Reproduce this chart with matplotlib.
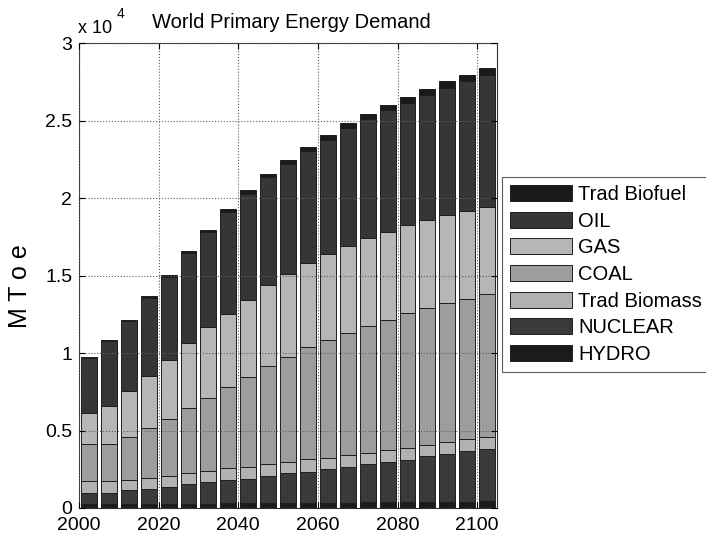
import matplotlib
matplotlib.use("Agg")
from matplotlib import pyplot as plt
from matplotlib.ticker import FuncFormatter
import numpy as np

plt.rcParams['font.family'] = ['Liberation Sans', 'DejaVu Sans']

years = [2000, 2005, 2010, 2015, 2020, 2025, 2030, 2035, 2040, 2045, 2050,
         2055, 2060, 2065, 2070, 2075, 2080, 2085, 2090, 2095, 2100]

# MToe by source, bottom of stack first
hydro = [230, 235, 240, 250, 260, 270, 280, 290, 300, 310, 320,
         330, 340, 350, 360, 370, 380, 390, 400, 410, 420]
nuclear = [740, 735, 900, 975, 1095, 1280, 1375, 1495, 1570, 1735, 1910,
           1990, 2155, 2315, 2480, 2620, 2715, 2965, 3085, 3265, 3405]
trad_biomass = [750, 750, 645, 730, 690, 710, 710, 795, 775, 795, 750,
                840, 755, 730, 730, 750, 795, 710, 755, 750, 775]
coal = [2430, 2430, 2795, 3205, 3695, 4170, 4730, 5205, 5825, 6300, 6740,
        7200, 7590, 7910, 8170, 8385, 8665, 8815, 8965, 9075, 9225]
gas = [1980, 2450, 2990, 3330, 3785, 4215, 4560, 4750, 4970, 5245, 5380,
       5460, 5545, 5590, 5655, 5700, 5700, 5695, 5700, 5655, 5610]
oil = [3540, 4155, 4480, 5060, 5405, 5815, 6140, 6590, 6850, 6960, 7130,
       7210, 7385, 7625, 7690, 7865, 7905, 8060, 8230, 8385, 8515]
trad_biofuel = [50, 60, 80, 100, 120, 140, 160, 180, 200, 220, 250,
                270, 290, 310, 330, 350, 370, 390, 410, 430, 450]

names = ['HYDRO', 'NUCLEAR', 'Trad Biomass', 'COAL', 'GAS', 'OIL', 'Trad Biofuel']
series = [hydro, nuclear, trad_biomass, coal, gas, oil, trad_biofuel]
colors = ['#1b1b1b', '#3a3a3a', '#b2b2b2', '#9d9d9d', '#b6b6b6', '#363636', '#1a1a1a']

fig = plt.figure(figsize=(7.06, 5.38), dpi=100)
ax = fig.add_axes([0.112, 0.0558, 0.592, 0.864])

x = np.array(years) + 2.5
bottom = np.zeros(len(years))
bars = []
for vals, name, col in zip(series, names, colors):
    b = ax.bar(x, vals, width=4, bottom=bottom, color=col, edgecolor='#1e1e1e',
               linewidth=0.7, label=name, zorder=2)
    bars.append(b)
    bottom += np.array(vals)

ax.set_xlim(2000, 2105)
ax.set_ylim(0, 30000)
ax.set_xticks(range(2000, 2101, 20))
ax.set_yticks(np.arange(0, 30001, 5000))
ax.yaxis.set_major_formatter(FuncFormatter(lambda v, p: f'{v / 1e4:g}'))
ax.tick_params(direction='in', labelsize=14, top=True, right=True, length=4)
ax.tick_params(axis='x', pad=6.5)
ax.tick_params(axis='y', pad=5)
ax.grid(True, linestyle=':', color='#606060', linewidth=0.8, zorder=3)
ax.set_axisbelow(False)
for s in ax.spines.values():
    s.set_linewidth(0.8)
    s.set_color('#333333')

fig.text(0.413, 0.948, 'World Primary Energy Demand', ha='center', va='baseline',
         fontsize=14.5)
fig.text(0.110, 0.9387, 'x 10', ha='left', va='baseline', fontsize=13)
fig.text(0.165, 0.987, '4', ha='left', va='top', fontsize=10)
fig.text(0.028, 1 - 286 / 538, 'M T o e', rotation=90, ha='center', va='center',
         fontsize=18)

leg = fig.legend(bars[::-1], names[::-1], loc='upper left',
                 bbox_to_anchor=(0.711, 0.671), fontsize=14.5, frameon=True,
                 fancybox=False, edgecolor='#333333', handlelength=3.1,
                 handleheight=0.85, labelspacing=0.38, handletextpad=0.3,
                 borderpad=0.4, borderaxespad=0)
leg.get_frame().set_linewidth(0.8)

fig.savefig('out.png', dpi=100)
